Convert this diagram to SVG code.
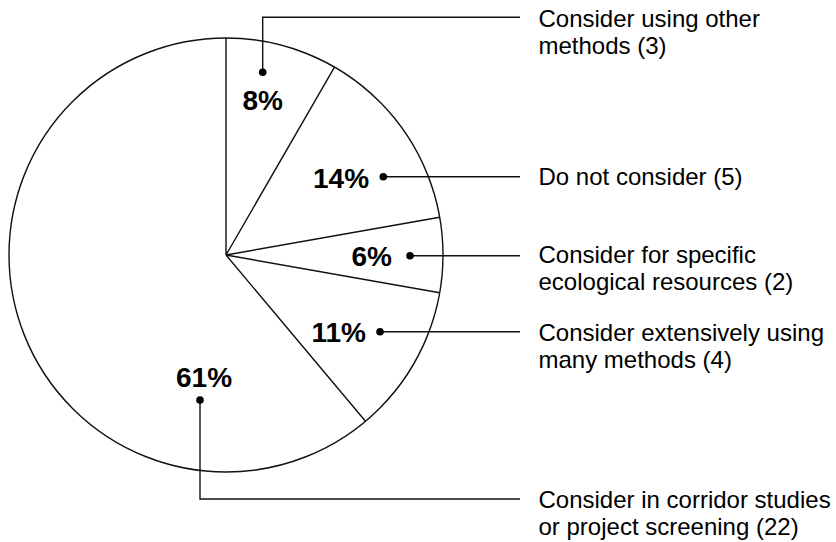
<svg xmlns="http://www.w3.org/2000/svg" width="836" height="542" viewBox="0 0 836 542">
<style>
.pie{fill:none;stroke:#111;stroke-width:1.4}
.lead{fill:none;stroke:#111;stroke-width:1.4}
.dot{fill:#000}
.pct{font-family:"Liberation Sans",Arial,sans-serif;font-weight:bold;font-size:28px;fill:#000}
.lbl{font-family:"Liberation Sans",Arial,sans-serif;font-size:24px;fill:#000}
</style>
<rect width="836" height="542" fill="#fff"/>
<g id="pie">
<circle class="pie" cx="226" cy="255" r="217"/>
<path class="pie" d="M226,255 L226,38 M226,255 L334.5,67.1 M226,255 L439.7,217.3 M226,255 L439.7,292.7 M226,255 L365.5,421.2"/>
</g>
<g id="connectors">
<polyline class="lead" points="262.7,72.3 262.7,17.3 520,17.3"/>
<polyline class="lead" points="383.3,176.7 520,176.7"/>
<polyline class="lead" points="410,255.7 520,255.7"/>
<polyline class="lead" points="380,331.7 520,331.7"/>
<polyline class="lead" points="200,400 200,499 520,499"/>
<circle class="dot" cx="262.7" cy="72.3" r="3.8"/>
<circle class="dot" cx="383.3" cy="176.7" r="3.8"/>
<circle class="dot" cx="410" cy="255.7" r="3.8"/>
<circle class="dot" cx="380" cy="331.7" r="3.8"/>
<circle class="dot" cx="200" cy="400" r="3.8"/>
</g>
<g id="slice-other">
<text class="pct" x="242.5" y="110">8%</text>
<text class="lbl" x="538.5" y="26.8">Consider using other</text>
<text class="lbl" x="538.5" y="54">methods (3)</text>
</g>
<g id="slice-not">
<text class="pct" x="313" y="187.5">14%</text>
<text class="lbl" x="538.5" y="185.3">Do not consider (5)</text>
</g>
<g id="slice-specific">
<text class="pct" x="351.5" y="265.5">6%</text>
<text class="lbl" x="538.5" y="262.5">Consider for specific</text>
<text class="lbl" x="538.5" y="290">ecological resources (2)</text>
</g>
<g id="slice-extensive">
<text class="pct" x="311.5" y="341.5">11%</text>
<text class="lbl" x="538.5" y="340.5">Consider extensively using</text>
<text class="lbl" x="538.5" y="367.5">many methods (4)</text>
</g>
<g id="slice-corridor">
<text class="pct" x="176" y="387">61%</text>
<text class="lbl" x="538.5" y="507.5">Consider in corridor studies</text>
<text class="lbl" x="538.5" y="534.5">or project screening (22)</text>
</g>
</svg>
